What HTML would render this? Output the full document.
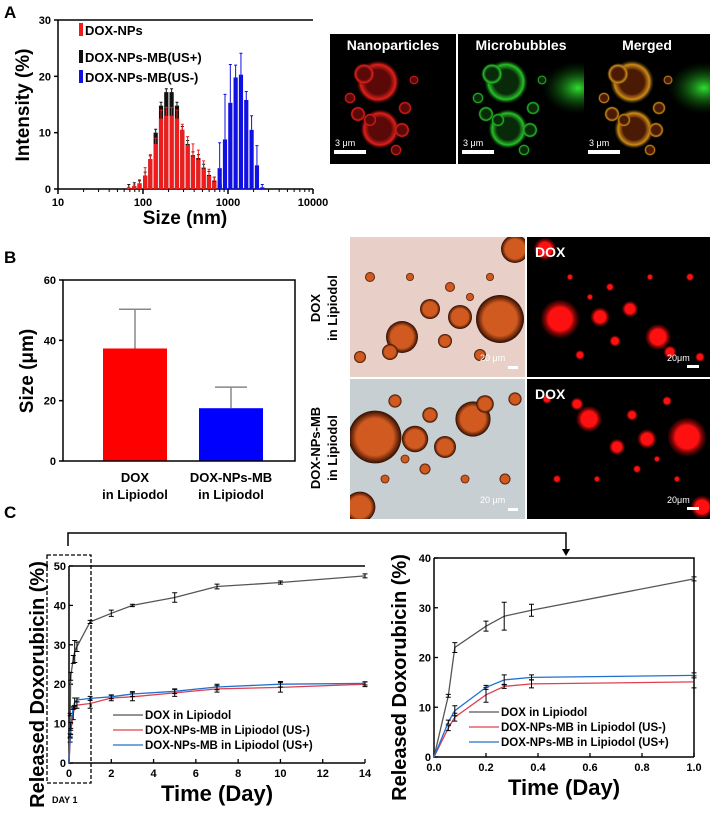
<!DOCTYPE html>
<html><head><meta charset="utf-8"><style>
body{margin:0;background:#fff}
svg{display:block;font-family:"Liberation Sans",sans-serif}
</style></head><body>
<svg id="s" width="716" height="817" viewBox="0 0 716 817" xmlns="http://www.w3.org/2000/svg">
<defs>
<radialGradient id="gr" cx="50%" cy="50%" r="50%"><stop offset="0.55" stop-color="#5a0808"/><stop offset="0.8" stop-color="#e0201a"/><stop offset="1" stop-color="#300" stop-opacity="0"/></radialGradient>
<radialGradient id="gg" cx="50%" cy="50%" r="50%"><stop offset="0.55" stop-color="#082a08"/><stop offset="0.8" stop-color="#28c028"/><stop offset="1" stop-color="#030" stop-opacity="0"/></radialGradient>
<radialGradient id="gm" cx="50%" cy="50%" r="50%"><stop offset="0.55" stop-color="#4a1a04"/><stop offset="0.8" stop-color="#d08a18"/><stop offset="1" stop-color="#330" stop-opacity="0"/></radialGradient>
<radialGradient id="gd" cx="50%" cy="50%" r="50%"><stop offset="0.7" stop-color="#d05a20"/><stop offset="0.92" stop-color="#5a2008"/><stop offset="1" stop-color="#2a1005"/></radialGradient>
<radialGradient id="gf" cx="50%" cy="50%" r="50%"><stop offset="0.6" stop-color="#ff1010"/><stop offset="1" stop-color="#600" stop-opacity="0.3"/></radialGradient>
<radialGradient id="gblob" cx="50%" cy="50%" r="50%"><stop offset="0" stop-color="#30e030"/><stop offset="1" stop-color="#0a4a0a" stop-opacity="0"/></radialGradient>
</defs>
<g id="gA"></g>
<g id="gB"></g>
<g id="gC"></g>
<g id="gImg"></g>
</svg>
<script>
// ---- Panel A data ----
const aSizes = [68,79,91,106,122,141,163,188,217,251,290,335,387,448,517,597,690,798];
const aRed = [0.2,0.5,1.0,2.4,5.3,8.0,12.5,13.0,13.0,12.5,10.5,7.8,5.8,5.2,3.6,2.3,1.3,0.7];
const aRedErr = [0.1,0.2,0.4,1.4,0.8,1.0,1.5,1.5,1.5,1.5,1.0,1.5,2.2,1.7,1.4,1.2,0.8,0.6];
const aBlack = [0.2,0.5,1.0,2.4,5.3,10.0,14.8,17.2,17.2,14.8,10.5,8.0,6.0,5.5,3.8,2.5,1.5,0.8];
const aBlueSizes = [798,922,1065,1230,1420,1640,1895,2190,2530];
const aBlue = [3.7,8.8,15.3,19.8,20.3,15.8,10.5,4.2,0.3];
const aBlueErr = [4.5,8.0,6.8,2.2,3.8,1.5,2.5,3.5,0.5];
const aXTicks = [10,100,1000,10000];
const aYTicks = [0,10,20,30];
// ---- Panel B data ----
const bCats = ["DOX|in Lipiodol","DOX-NPs-MB|in Lipiodol"];
const bVals = [37.3,17.5];
const bErr = [13.0,7.0];
const bYTicks = [0,20,40,60];
// ---- Panel C data ----
const cTime = [0,0.055,0.08,0.2,0.27,0.375,1,2,3,5,7,10,14];
const cDox = [0,12.3,22,26.3,28.3,29.5,35.8,38,40,42,44.8,45.8,47.5];
const cDoxErr = [0,0.3,1,1,2.8,1.2,0.4,0.8,0.3,1.2,0.6,0.4,0.5];
const cUSm = [0,5.8,8,12.5,14.2,14.7,15.1,16.5,16.8,17.8,18.8,19.2,20];
const cUSmErr = [0,0.5,0.8,1.5,0.4,0.8,1.2,0.7,1,0.9,0.8,1.2,0.6];
const cUSp = [0,7,9.3,14,15.5,16,16.4,16.8,17.5,18.2,19.3,20,20.2];
const cUSpErr = [0,0.4,1,0.4,1,0.5,0.5,0.5,0.6,0.6,0.7,0.7,0.4];
const cLXTicks = [0,2,4,6,8,10,12,14];
const cLYTicks = [0,10,20,30,40,50];
const cRXTicks = [0,0.2,0.4,0.6,0.8,1.0];
const cRYTicks = [0,10,20,30,40];
const cNames = ["DOX in Lipiodol","DOX-NPs-MB in Lipiodol (US-)","DOX-NPs-MB in Lipiodol (US+)"];

const NS="http://www.w3.org/2000/svg";
function mk(tag,parent,attrs,txt){const e=document.createElementNS(NS,tag);for(const k in attrs)e.setAttribute(k,attrs[k]);if(txt!==undefined)e.textContent=txt;parent.appendChild(e);return e;}

// ===== Panel A =====
const A=document.getElementById('gA');
const ax=v=>58+85*(Math.log10(v)-1), ay=v=>189-v*(169/30);
let t=mk('text',A,{x:4,y:18,'font-size':17,'font-weight':'bold'},'A');

let fr=mk('path',A,{d:'M58,20 V189 H313 M58,20 H313',fill:'none',stroke:'#000','stroke-width':1.5});

aYTicks.forEach(v=>{mk('line',A,{x1:54,x2:58,y1:ay(v),y2:ay(v),stroke:'#000','stroke-width':1.5});
 const l=mk('text',A,{x:51,y:ay(v)+4,'font-size':11,'font-weight':'bold','text-anchor':'end'},v);
 });
aXTicks.forEach((v,i)=>{mk('line',A,{x1:ax(v),x2:ax(v),y1:189,y2:194,stroke:'#000','stroke-width':1.5});
 const l=mk('text',A,{x:ax(v),y:206,'font-size':11,'font-weight':'bold','text-anchor':'middle'},v);
 
 if(i<3)for(let m=2;m<10;m++)mk('line',A,{x1:ax(v*m),x2:ax(v*m),y1:189,y2:192,stroke:'#000','stroke-width':1});});
function aBar(sz,val,err,col,name){const x=ax(sz),w=4.2;
 const r=mk('rect',A,{x:x-w/2,y:ay(val),width:w,height:189-ay(val),fill:col});
 
 if(err>0){mk('path',A,{d:`M${x},${ay(val)} V${ay(val+err)} M${x-1.5},${ay(val+err)} H${x+1.5}`,stroke:col,'stroke-width':1,fill:'none'});}}
aSizes.forEach((s,i)=>aBar(s,aBlack[i],0.6,'#111','bar-us-plus'));
aSizes.forEach((s,i)=>aBar(s,aRed[i],aRedErr[i],'#ee1c1c','bar-dox-nps'));
aBlueSizes.forEach((s,i)=>aBar(s,aBlue[i],aBlueErr[i],'#1010e0','bar-us-minus'));
[['DOX-NPs','#ee1c1c',36],['DOX-NPs-MB(US+)','#111',62],['DOX-NPs-MB(US-)','#1010e0',82]].forEach((e,i)=>{
 const y=[35,62,82][i];const g=mk('g',A,{});
 mk('rect',g,{x:79,y:y-12,width:4,height:13,fill:e[1]});
 mk('text',g,{x:85,y:y,'font-size':13,'font-weight':'bold'},e[0]);});
t=mk('text',A,{x:185,y:224,'font-size':19,'font-weight':'bold','text-anchor':'middle'},'Size (nm)');

t=mk('text',A,{x:0,y:0,'font-size':19,'font-weight':'bold','text-anchor':'middle',transform:'translate(29,105) rotate(-90)'},'Intensity (%)');


// ===== Panel B =====
const B=document.getElementById('gB');
const by=v=>461-v*(181/60);
t=mk('text',B,{x:4,y:263,'font-size':17,'font-weight':'bold'},'B');

bVals.forEach((v,i)=>{const x0=[103,199][i];const col=['#ff0000','#0000ff'][i];
 const r=mk('rect',B,{x:x0,y:by(v),width:64,height:461-by(v),fill:col});
 
 const cx=x0+32;mk('path',B,{d:`M${cx},${by(v)} V${by(v+bErr[i])} M${cx-16},${by(v+bErr[i])} H${cx+16}`,stroke:'#888','stroke-width':1.5,fill:'none'});
 bCats[i].split('|').forEach((s,k)=>{const l=mk('text',B,{x:cx,y:482+k*17,'font-size':13,'font-weight':'bold','text-anchor':'middle'},s);
 });});
fr=mk('rect',B,{x:63,y:280,width:232,height:181,fill:'none',stroke:'#000','stroke-width':1.5});

bYTicks.forEach(v=>{mk('line',B,{x1:59,x2:63,y1:by(v),y2:by(v),stroke:'#000','stroke-width':1.5});
 const l=mk('text',B,{x:56,y:by(v)+4,'font-size':11,'font-weight':'bold','text-anchor':'end'},v);
 });
t=mk('text',B,{x:0,y:0,'font-size':19,'font-weight':'bold','text-anchor':'middle',transform:'translate(33,371) rotate(-90)'},'Size (μm)');

[['DOX','in Lipiodol',308],['DOX-NPs-MB','in Lipiodol',448]].forEach(e=>{
 const g=mk('g',B,{transform:`translate(320,${e[2]}) rotate(-90)`});
 mk('text',g,{x:0,y:0,'font-size':13,'font-weight':'bold','text-anchor':'middle'},e[0]);
 mk('text',g,{x:0,y:17,'font-size':13,'font-weight':'bold','text-anchor':'middle'},e[1]);});

// ===== Panel C =====
const C=document.getElementById('gC');
t=mk('text',C,{x:4,y:518,'font-size':17,'font-weight':'bold'},'C');

let br=mk('path',C,{d:'M68,546 V533 H566 V550',fill:'none',stroke:'#000','stroke-width':1.5});

mk('path',C,{d:'M562,549 L570,549 L566,556 Z',fill:'#000'});
let db=mk('rect',C,{x:47,y:555,width:44,height:228,fill:'none',stroke:'#000','stroke-width':1.3,'stroke-dasharray':'4,2'});

t=mk('text',C,{x:52,y:803,'font-size':9,'font-weight':'bold'},'DAY 1');

const cols=['#555','#e04050','#2070d0'];
function chart(px,py,w,h,xmax,ymax,xt,yt,times,series,errs,lg,name,xtitle,ytitleX,lgx,lgy){
 const X=v=>px+v/xmax*w, Y=v=>py+h-v/ymax*h;
 const g=mk('g',C,{});
 const f=mk('path',g,{d:`M${px},${py} V${py+h} H${px+w} M${px},${py} H${px+w} ${name==='release-chart-day1'?'V'+(py+h):''}`,fill:'none',stroke:'#000','stroke-width':1.5});
 
 yt.forEach(v=>{mk('line',g,{x1:px,x2:px+4,y1:Y(v),y2:Y(v),stroke:'#000','stroke-width':1.3});
  const l=mk('text',g,{x:px-3,y:Y(v)+4,'font-size':11,'font-weight':'bold','text-anchor':'end'},v);
  });
 xt.forEach(v=>{mk('line',g,{x1:X(v),x2:X(v),y1:py+h,y2:py+h-4,stroke:'#000','stroke-width':1.3});
  const l=mk('text',g,{x:X(v),y:py+h+14,'font-size':11,'font-weight':'bold','text-anchor':'middle'},xmax===1?v.toFixed(1):v);
  });
 series.forEach((s,si)=>{let d='';times.forEach((tm,i)=>{if(tm<=xmax)d+=(d?'L':'M')+X(tm).toFixed(1)+','+Y(s[i]).toFixed(1);});
  const p=mk('path',g,{d,fill:'none',stroke:cols[si],'stroke-width':1.3});
  
  times.forEach((tm,i)=>{if(tm>xmax||errs[si][i]<=0)return;const x=X(tm),y1=Y(s[i]+errs[si][i]),y2=Y(s[i]-errs[si][i]);
   mk('path',g,{d:`M${x},${y1} V${y2} M${x-2.5},${y1} H${x+2.5} M${x-2.5},${y2} H${x+2.5}`,stroke:'#000','stroke-width':1,fill:'none'});});});
 cNames.forEach((n,i)=>{const e=mk('g',g,{});
  mk('line',e,{x1:lgx-32,x2:lgx-2,y1:lgy+i*15-4,y2:lgy+i*15-4,stroke:cols[i],'stroke-width':1.3});
  mk('text',e,{x:lgx,y:lgy+i*15,'font-size':11.5,'font-weight':'bold'},n);});
 let tt=mk('text',g,{x:px+w/2,y:py+h+38,'font-size':22,'font-weight':'bold','text-anchor':'middle'},'Time (Day)');
 
 tt=mk('text',g,{x:0,y:0,'font-size':20,'font-weight':'bold','text-anchor':'middle',transform:`translate(${ytitleX},${py+h/2+20}) rotate(-90)`},'Released Doxorubicin (%)');
 
}
chart(69,566,296,197,14,50,cLXTicks,cLYTicks,cTime,[cDox,cUSm,cUSp],[cDoxErr,cUSmErr,cUSpErr],true,'release-chart-14day',null,44,145,719);
chart(434,558,260,199,1,40,cRXTicks,cRYTicks,cTime,[cDox,cUSm,cUSp],[cDoxErr,cUSmErr,cUSpErr],true,'release-chart-day1',null,406,501,716);

// ===== Micrographs =====
const I=document.getElementById('gImg');
function panel(x,y,w,h,bg,name){const g=mk('g',I,{});
 const cp=mk('clipPath',g,{id:'c'+name});mk('rect',cp,{x,y,width:w,height:h});
 const inner=mk('g',g,{'clip-path':`url(#c${name})`});mk('rect',inner,{x,y,width:w,height:h,fill:bg});return inner;}
const fl=[[48,48,22],[34,40,11],[50,95,20],[28,80,8],[40,86,7],[72,96,8],[75,74,7],[20,64,6],[66,116,6],[84,46,5]];
[['#000','gr','nanoparticles-image','Nanoparticles',330],['#000','gg','microbubbles-image','Microbubbles',458],['#000','gm','merged-image','Merged',584]].forEach(p=>{
 const g=panel(p[4],34,126,130,p[0],p[2]);
 if(p[1]!=='gr')mk('ellipse',g,{cx:p[4]+120,cy:88,rx:36,ry:26,fill:'url(#gblob)'});
 fl.forEach(c=>mk('circle',g,{cx:p[4]+c[0],cy:34+c[1],r:c[2],fill:`url(#${p[1]})`}));
 mk('text',g,{x:p[4]+63,y:50,'font-size':14,'font-weight':'bold',fill:'#fff','text-anchor':'middle'},p[3]);
 mk('rect',g,{x:p[4]+4,y:150,width:32,height:4,fill:'#fff'});
 mk('text',g,{x:p[4]+5,y:146,'font-size':9,fill:'#fff'},'3 μm');});
const bb=[[165,12,14],[52,100,16],[150,82,24],[110,80,12],[80,72,10],[40,115,8],[130,118,6],[20,40,5],[100,50,5],[60,40,4],[140,40,4],[10,120,6],[95,104,7],[120,60,4]];
[[350,237,'#e8cfc8','brightfield-dox'],[350,379,'#c8cfd2','brightfield-dox-nps-mb']].forEach((p,k)=>{
 const g=panel(p[0],p[1],175,140,p[2],p[3]);
 bb.forEach(c=>mk('circle',g,{cx:p[0]+(k?175-c[0]:c[0]),cy:p[1]+(k?140-c[1]:c[1]),r:c[2]*(k?1.1:1),fill:'url(#gd)'}));
 mk('rect',g,{x:p[0]+158,y:p[1]+129,width:10,height:3,fill:'#fff'});
 mk('text',g,{x:p[0]+130,y:p[1]+124,'font-size':9,fill:'#fff'},'20 μm');});
[[527,237,'fluorescence-dox'],[527,379,'fluorescence-dox-nps-mb']].forEach((p,k)=>{
 const g=panel(p[0],p[1],183,140,'#000',p[2]);
 bb.forEach(c=>mk('circle',g,{cx:p[0]+(k?c[0]+10:183-c[0]),cy:p[1]+(k?140-c[1]:c[1]),r:c[2]*0.8,fill:'url(#gf)'}));
 mk('text',g,{x:p[0]+8,y:p[1]+20,'font-size':14,'font-weight':'bold',fill:'#fff'},'DOX');
 mk('rect',g,{x:p[0]+160,y:p[1]+128,width:12,height:3,fill:'#fff'});
 mk('text',g,{x:p[0]+140,y:p[1]+124,'font-size':9,fill:'#fff'},'20μm');});
</script>
</body></html>
